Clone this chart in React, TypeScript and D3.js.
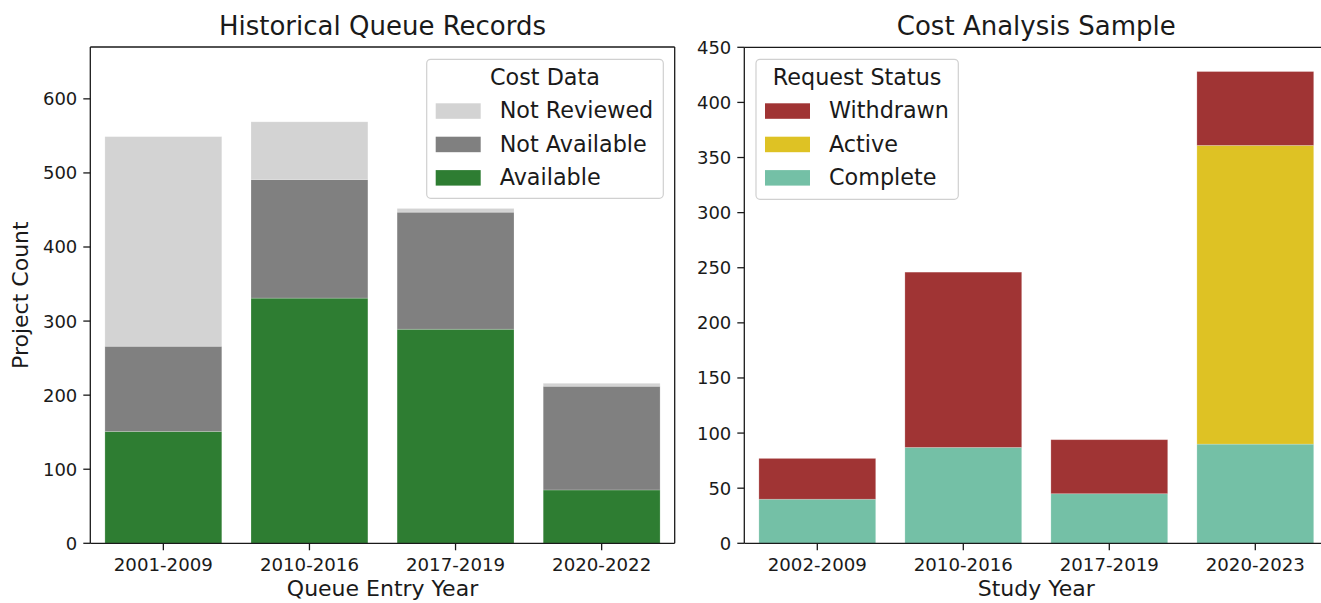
import React from "react";
import * as d3 from "d3";

const leftCategories = ["2001-2009", "2010-2016", "2017-2019", "2020-2022"];
const available = [151, 331, 289, 72];
const notAvailable = [115, 160, 158, 140];
const notReviewed = [283, 78, 5, 4];
const leftTicks = [0, 100, 200, 300, 400, 500, 600];

const rightCategories = ["2002-2009", "2010-2016", "2017-2019", "2020-2023"];
const complete = [40, 87, 45, 90];
const active = [0, 0, 0, 271];
const withdrawn = [37, 159, 49, 67];
const rightTicks = [0, 50, 100, 150, 200, 250, 300, 350, 400, 450];

const FONT = "'DejaVu Sans', sans-serif";
const INK = "#1a1a1a";

type Series = { name: string; values: number[]; color: string };

function Panel(props: {
  categories: string[];
  series: Series[]; // bottom to top
  legendOrder: Series[];
  yMax: number;
  ticks: number[];
  x0: number;
  x1: number;
  yTop: number;
  yBottom: number;
  title: string;
  xLabel: string;
  yLabel?: string;
  legendTitle: string;
  legendBox: { x: number; y: number; w: number; h: number };
  showRightSpine: boolean;
}) {
  const { categories, series, yMax, ticks, x0, x1, yTop, yBottom } = props;
  const x = d3.scaleBand<string>().domain(categories).range([x0, x1]).paddingInner(0.2).paddingOuter(0.1);
  const y = d3.scaleLinear().domain([0, yMax]).range([yBottom, yTop]);
  const table = categories.map((c, i) => {
    const row: Record<string, number | string> = { cat: c };
    series.forEach((s) => (row[s.name] = s.values[i]));
    return row;
  });
  const stack = d3.stack<any>().keys(series.map((s) => s.name));
  const layers = stack(table as any);
  const lb = props.legendBox;
  const cx = (x0 + x1) / 2;
  return (
    <g>
      {layers.map((layer, li) => (
        <g key={layer.key}>
          {layer.map((d, i) =>
            d[1] - d[0] > 0 ? (
              <rect
                key={i}
                x={x(categories[i])!}
                width={x.bandwidth()}
                y={y(d[1])}
                height={y(d[0]) - y(d[1])}
                fill={series[li].color}
                stroke="rgba(255,255,255,0.25)"
                strokeWidth={0.8}
              />
            ) : null
          )}
        </g>
      ))}
      <line x1={x0} x2={x0} y1={yTop} y2={yBottom} stroke={INK} strokeWidth={1.3} />
      <line x1={x0} x2={x1} y1={yBottom} y2={yBottom} stroke={INK} strokeWidth={1.3} />
      <line x1={x0} x2={x1} y1={yTop} y2={yTop} stroke={INK} strokeWidth={1.3} />
      {props.showRightSpine && <line x1={x1} x2={x1} y1={yTop} y2={yBottom} stroke={INK} strokeWidth={1.3} />}
      {ticks.map((t) => (
        <g key={t}>
          <line x1={x0 - 7} x2={x0} y1={y(t)} y2={y(t)} stroke={INK} strokeWidth={1.3} />
          <text x={x0 - 13} y={y(t)} dy="0.36em" textAnchor="end" fontSize={18} fontFamily={FONT} fill={INK}>
            {t}
          </text>
        </g>
      ))}
      {categories.map((c) => {
        const cxp = x(c)! + x.bandwidth() / 2;
        return (
          <g key={c}>
            <line x1={cxp} x2={cxp} y1={yBottom} y2={yBottom + 7} stroke={INK} strokeWidth={1.3} />
            <text x={cxp} y={yBottom + 28} textAnchor="middle" fontSize={18.2} fontFamily={FONT} fill={INK}>
              {c}
            </text>
          </g>
        );
      })}
      <text x={cx} y={35} textAnchor="middle" fontSize={26} fontFamily={FONT} fill={INK}>
        {props.title}
      </text>
      <text x={cx} y={596} textAnchor="middle" fontSize={22} fontFamily={FONT} fill={INK}>
        {props.xLabel}
      </text>
      {props.yLabel && (
        <text
          transform={`translate(28,${(yTop + yBottom) / 2}) rotate(-90)`}
          textAnchor="middle"
          fontSize={22}
          fontFamily={FONT}
          fill={INK}
        >
          {props.yLabel}
        </text>
      )}
      <rect x={lb.x} y={lb.y} width={lb.w} height={lb.h} rx={4} fill="rgba(255,255,255,0.85)" stroke="#d0d0d0" strokeWidth={1.2} />
      <text x={lb.x + lb.w / 2} y={lb.y + 26} textAnchor="middle" fontSize={22.3} fontFamily={FONT} fill={INK}>
        {props.legendTitle}
      </text>
      {props.legendOrder.map((s, i) => (
        <g key={s.name}>
          <rect x={lb.x + 9} y={lb.y + 44 + i * 33.4} width={45} height={15.5} fill={s.color} />
          <text x={lb.x + 73} y={lb.y + 59 + i * 33.4} fontSize={22.3} fontFamily={FONT} fill={INK}>
            {s.name}
          </text>
        </g>
      ))}
    </g>
  );
}

export default function App() {
  const leftSeries: Series[] = [
    { name: "Available", values: available, color: "#2e7d32" },
    { name: "Not Available", values: notAvailable, color: "#808080" },
    { name: "Not Reviewed", values: notReviewed, color: "#d3d3d3" },
  ];
  const rightSeries: Series[] = [
    { name: "Complete", values: complete, color: "#74c0a6" },
    { name: "Active", values: active, color: "#dec224" },
    { name: "Withdrawn", values: withdrawn, color: "#a03434" },
  ];
  return (
    <svg width={1321} height={603} style={{ position: "absolute", left: 0, top: 0, background: "#fff" }}>
      <rect width={1321} height={603} fill="#fff" />
      <Panel
        categories={leftCategories}
        series={leftSeries}
        legendOrder={[...leftSeries].reverse()}
        yMax={670}
        ticks={leftTicks}
        x0={90.3}
        x1={674.7}
        yTop={47}
        yBottom={543.3}
        title="Historical Queue Records"
        xLabel="Queue Entry Year"
        yLabel="Project Count"
        legendTitle="Cost Data"
        legendBox={{ x: 426.7, y: 59.3, w: 236.6, h: 139 }}
        showRightSpine={true}
      />
      <Panel
        categories={rightCategories}
        series={rightSeries}
        legendOrder={[...rightSeries].reverse()}
        yMax={450}
        ticks={rightTicks}
        x0={744.3}
        x1={1328.3}
        yTop={47.3}
        yBottom={543.3}
        title="Cost Analysis Sample"
        xLabel="Study Year"
        legendTitle="Request Status"
        legendBox={{ x: 756, y: 59.3, w: 202.3, h: 140 }}
        showRightSpine={true}
      />
    </svg>
  );
}
